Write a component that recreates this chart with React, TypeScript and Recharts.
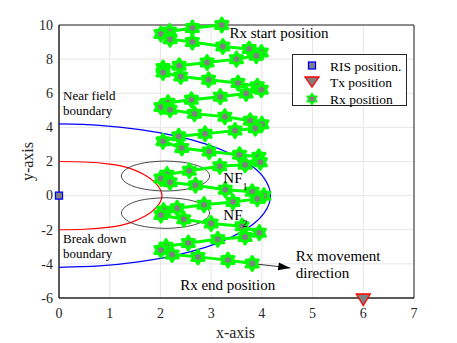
import React from 'react';
import { ComposedChart, Scatter, XAxis, YAxis, CartesianGrid, ReferenceArea, Legend } from 'recharts';

const FONT = '"Liberation Serif", "Times New Roman", Times, serif';
const AXIS = '#262626';

const xTicks = [0, 1, 2, 3, 4, 5, 6, 7];
const yTicks = [-6, -4, -2, 0, 2, 4, 6, 8, 10];

// Rx trajectory (start at top, end at bottom)
const rxX = [3.21, 2.63, 2.18, 2.01, 2.19, 2.63, 3.23, 3.75, 3.99, 3.89,
  3.50, 2.92, 2.37, 2.05, 2.05, 2.40, 2.95, 3.53, 3.91, 3.99,
  3.69, 3.18, 2.61, 2.15, 2.01, 2.19, 2.67, 3.27, 3.77, 4.00,
  3.87, 3.47, 2.88, 2.36, 2.05, 2.42, 2.96, 3.56, 3.94, 3.97,
  3.67, 3.17, 2.57, 2.13, 2.01, 2.19, 2.69, 3.28, 3.81, 4.04,
  3.91, 3.43, 2.86, 2.33, 2.06, 2.01, 2.46, 3.00, 3.61, 3.95,
  3.67, 3.13, 2.55, 2.11, 2.01, 2.23, 2.74, 3.33, 3.81];
const rxY = [10.0, 9.82, 9.62, 9.47, 9.17, 9.0, 8.74, 8.59, 8.39, 8.2,
  8.0, 7.8, 7.61, 7.48, 7.22, 6.98, 6.79, 6.6, 6.41, 6.21,
  5.99, 5.8, 5.62, 5.44, 5.19, 5.04, 4.8, 4.63, 4.39, 4.19,
  3.95, 3.81, 3.63, 3.48, 3.18, 2.79, 2.59, 2.4, 2.28, 1.96,
  1.81, 1.72, 1.46, 1.23, 1.0, 0.78, 0.61, 0.35, 0.23, 0.0,
  -0.19, -0.38, -0.53, -0.74, -0.88, -1.14, -1.38, -1.64, -1.79, -2.17,
  -2.42, -2.56, -2.78, -2.99, -3.19, -3.45, -3.59, -3.78, -3.98];

const risX = [0];
const risY = [0];
const txX = [6];
const txY = [-6];

// Near-field boundary (blue)
const nearX = [0, 0.8, 1.6, 2.3, 2.9, 3.4, 3.8, 4.05, 4.17, 4.05, 3.8, 3.4, 2.9, 2.3, 1.6, 0.8, 0];
const nearY = [4.2, 4.12, 3.87, 3.5, 3.02, 2.43, 1.73, 1.0, 0, -1.0, -1.73, -2.43, -3.02, -3.5, -3.87, -4.12, -4.2];

// Break-down boundary (red)
const breakX = [0, 0.5, 1.0, 1.4, 1.7, 1.9, 2.03, 1.9, 1.7, 1.4, 1.0, 0.5, 0];
const breakY = [2, 1.97, 1.85, 1.6, 1.2, 0.75, 0, -0.75, -1.2, -1.6, -1.85, -1.97, -2];

// NF ellipses (black)
const nfX = [2.10, 2.43, 2.72, 2.90, 2.97, 2.90, 2.72, 2.43, 2.10, 1.77, 1.48, 1.30, 1.23, 1.30, 1.48, 1.77, 2.10];
const nf1Y = [2.03, 1.96, 1.77, 1.49, 1.15, 0.81, 0.53, 0.34, 0.27, 0.34, 0.53, 0.81, 1.15, 1.49, 1.77, 1.96, 2.03];
const nf2Y = [-0.12, -0.19, -0.38, -0.68, -1.02, -1.36, -1.66, -1.85, -1.92, -1.85, -1.66, -1.36, -1.02, -0.68, -0.38, -0.19, -0.12];

// Movement arrow
const arrowX = [3.81, 4.56];
const arrowY = [-3.98, -4.24];

// Text annotations (data coordinates)
const noteKeys = ['start', 'near', 'break', 'nf1', 'nf2', 'end', 'move'];
const noteX = [3.36, 0.08, 0.08, 3.24, 3.24, 2.39, 4.67];
const noteY = [9.54, 5.91, -2.46, 1.05, -1.11, -5.21, -3.55];
const noteLines = [['Rx start position'], ['Near field', 'boundary'], ['Break down', 'boundary'], ['NF'], ['NF'], ['Rx end position'], ['Rx movement', 'direction']];
const noteSubs = ['', '', '', '1', '2', '', ''];

const legendLabels = ['RIS position.', 'Tx position', 'Rx position'];

const zip = (xs: number[], ys: number[]) => xs.map((x, i) => ({ x, y: ys[i] }));

const rxData = zip(rxX, rxY);
const risData = zip(risX, risY);
const txData = zip(txX, txY);
const nearData = zip(nearX, nearY);
const breakData = zip(breakX, breakY);
const nf1Data = zip(nfX, nf1Y);
const nf2Data = zip(nfX, nf2Y);
const arrowData = arrowX.map((x, i) => ({ x, y: arrowY[i], head: i === arrowX.length - 1 }));
const noteData = noteKeys.map((k, i) => ({ key: k, x: noteX[i], y: noteY[i], lines: noteLines[i], sub: noteSubs[i] }));

const noteStyle: Record<string, { size: number; gap: number }> = {
  start: { size: 15, gap: 0 },
  near: { size: 13, gap: 15 },
  break: { size: 13, gap: 15 },
  nf1: { size: 15, gap: 0 },
  nf2: { size: 15, gap: 0 },
  end: { size: 15, gap: 0 },
  move: { size: 15, gap: 17 },
};

function starPoints(cx: number, cy: number, R: number) {
  const pts: string[] = [];
  for (let i = 0; i < 12; i++) {
    const a = -Math.PI / 2 + (i * Math.PI) / 6;
    const r = i % 2 === 0 ? R : R / Math.sqrt(3);
    pts.push(`${cx + r * Math.cos(a)},${cy + r * Math.sin(a)}`);
  }
  return pts.join(' ');
}

const StarShape = (props: any) => {
  const { cx, cy } = props;
  if (cx == null || cy == null) return <g />;
  return <polygon points={starPoints(cx, cy, 7)} fill="#808080" stroke="#00ff00" strokeWidth={3} strokeLinejoin="round" />;
};

const SquareShape = (props: any) => {
  const { cx, cy } = props;
  return <rect x={cx - 3.5} y={cy - 3.5} width={7} height={7} fill="#808080" stroke="#0000ff" strokeWidth={1.3} />;
};

const TriShape = (props: any) => {
  const { cx, cy } = props;
  return <polygon points={`${cx - 7},${cy - 4} ${cx + 7},${cy - 4} ${cx},${cy + 7.5}`} fill="#808080" stroke="#ff0000" strokeWidth={1.3} />;
};

const NoShape = () => <g />;

const ArrowShape = (props: any) => {
  const { cx, cy, payload } = props;
  if (!payload || !payload.head) return <g />;
  const th = Math.atan2(4.3, 31.9);
  const L = 12;
  const W = 4;
  const bx = cx - L * Math.cos(th);
  const by = cy - L * Math.sin(th);
  const px = -Math.sin(th) * W;
  const py = Math.cos(th) * W;
  return <polygon points={`${cx},${cy} ${bx + px},${by + py} ${bx - px},${by - py}`} fill="#000" />;
};

const NoteShape = (props: any) => {
  const { cx, cy, payload } = props;
  if (!payload) return <g />;
  const st = noteStyle[payload.key];
  return (
    <text x={cx} y={cy} fontFamily={FONT} fontSize={st.size} fill="#000" dominantBaseline="central">
      {payload.lines.map((l: string, i: number) => (
        <tspan key={i} x={cx} dy={i === 0 ? 0 : st.gap}>{l}</tspan>
      ))}
      {payload.sub ? <tspan dy={8} fontSize={10}>{payload.sub}</tspan> : null}
    </text>
  );
};

const LegendBox = () => (
  <svg width={116} height={53} style={{ display: 'block' }}>
    <rect x={0.5} y={0.5} width={114} height={51} fill="#fff" stroke={AXIS} strokeWidth={1} />
    <rect x={16.5} y={8} width={7} height={7} fill="#808080" stroke="#0000ff" strokeWidth={1.3} />
    <polygon points="13,23 27,23 20,33" fill="#808080" stroke="#ff0000" strokeWidth={1.3} />
    <polygon points={starPoints(20, 45, 5.5)} fill="#808080" stroke="#00ff00" strokeWidth={1.6} strokeLinejoin="round" />
    {legendLabels.map((t, i) => (
      <text key={t} x={38} y={12 + i * 16.5} fontFamily={FONT} fontSize={13.5} fill="#000" dominantBaseline="central">{t}</text>
    ))}
  </svg>
);

const XTick = (props: any) => {
  const { x, y, payload } = props;
  return (
    <text x={x} y={y} dy="0.71em" textAnchor="middle" fontFamily={FONT} fontSize={14} fill={AXIS}>{payload.value}</text>
  );
};

const YTick = (props: any) => {
  const { x, y, payload } = props;
  return (
    <text x={x} y={y} dy="0.34em" textAnchor="end" fontFamily={FONT} fontSize={14} fill={AXIS}>{payload.value}</text>
  );
};

const XLabel = (props: any) => {
  const vb = props.viewBox ?? { x: 59, y: 298, width: 355, height: 45 };
  return (
    <text x={vb.x + vb.width / 2 - 1} y={vb.y + 39.5} textAnchor="middle" fontFamily={FONT} fontSize={16} fill={AXIS}>x-axis</text>
  );
};

const YLabel = (props: any) => {
  const vb = props.viewBox ?? { x: 0, y: 25, width: 59, height: 273 };
  const x = vb.x + 27;
  const y = vb.y + vb.height / 2;
  return (
    <text x={x} y={y} transform={`rotate(-90, ${x}, ${y})`} textAnchor="middle" dominantBaseline="central" fontFamily={FONT} fontSize={16} fill={AXIS}>y-axis</text>
  );
};

export default function App() {
  return (
    <div style={{ position: 'absolute', left: 0, top: 0, width: 457, height: 343, background: '#fff', fontFamily: FONT }}>
      <ComposedChart width={457} height={343} margin={{ top: 25, right: 43, bottom: 0, left: 0 }}>
        <CartesianGrid stroke="#e6e6e6" strokeWidth={1} />
        <XAxis
          type="number"
          dataKey="x"
          domain={[0, 7]}
          ticks={xTicks}
          interval={0}
          height={45}
          axisLine={{ stroke: AXIS }}
          tickLine={false}
          tickSize={6}
          tickMargin={4}
          tick={<XTick />}
          label={<XLabel />}
        />
        <YAxis
          type="number"
          dataKey="y"
          domain={[-6, 10]}
          ticks={yTicks}
          interval={0}
          width={59}
          axisLine={{ stroke: AXIS }}
          tickLine={false}
          tickSize={4}
          tickMargin={2}
          tick={<YTick />}
          label={<YLabel />}
        />
        <ReferenceArea x1={0} x2={7} y1={-6} y2={10} fill="none" stroke={AXIS} strokeWidth={1} ifOverflow="visible" />
        <Scatter name="near" data={nearData} line={{ stroke: '#0000ff', strokeWidth: 1.2 }} lineJointType="natural" shape={NoShape} legendType="none" isAnimationActive={false} />
        <Scatter name="break" data={breakData} line={{ stroke: '#ff0000', strokeWidth: 1.2 }} lineJointType="natural" shape={NoShape} legendType="none" isAnimationActive={false} />
        <Scatter name="nf1" data={nf1Data} line={{ stroke: '#333333', strokeWidth: 0.9 }} lineJointType="natural" shape={NoShape} legendType="none" isAnimationActive={false} />
        <Scatter name="nf2" data={nf2Data} line={{ stroke: '#333333', strokeWidth: 0.9 }} lineJointType="natural" shape={NoShape} legendType="none" isAnimationActive={false} />
        <Scatter name="arrow" data={arrowData} line={{ stroke: '#000', strokeWidth: 0.8 }} shape={ArrowShape} legendType="none" isAnimationActive={false} />
        <Scatter name="RIS position." data={risData} shape={SquareShape} isAnimationActive={false} />
        <Scatter name="Tx position" data={txData} shape={TriShape} isAnimationActive={false} />
        <Scatter name="Rx position" data={rxData} line={{ stroke: '#00ff00', strokeWidth: 3 }} shape={StarShape} isAnimationActive={false} />
        <Scatter name="notes" data={noteData} shape={NoteShape} legendType="none" isAnimationActive={false} />
        <Legend
          layout="horizontal"
          verticalAlign="middle"
          align="center"
          content={<LegendBox />}
          wrapperStyle={{ left: 292, top: 54, width: 116, height: 53 }}
        />
      </ComposedChart>
    </div>
  );
}
